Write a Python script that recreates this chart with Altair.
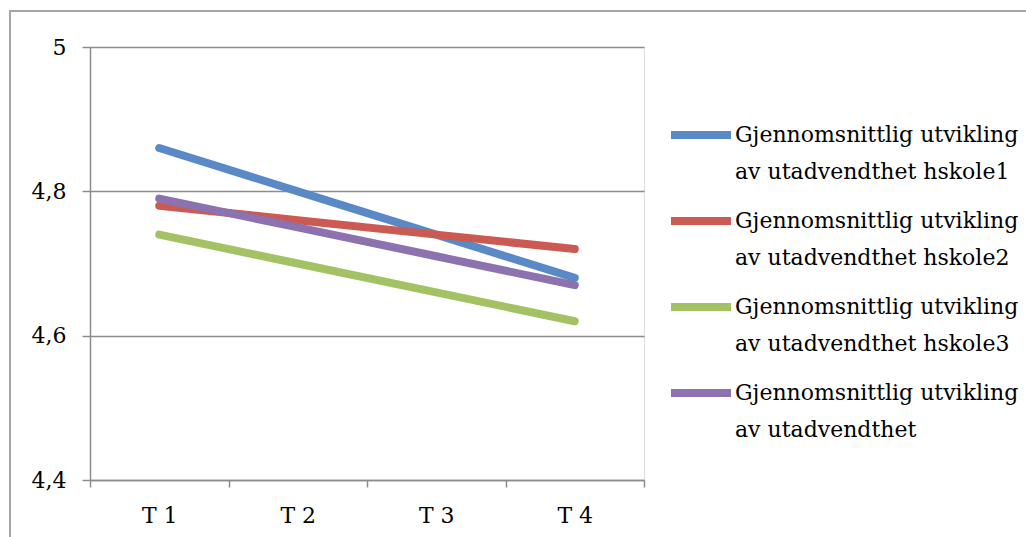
import altair as alt
import pandas as pd

categories = ["T 1", "T 2", "T 3", "T 4"]
series_names = [
    "Gjennomsnittlig utvikling av utadvendthet hskole1",
    "Gjennomsnittlig utvikling av utadvendthet hskole2",
    "Gjennomsnittlig utvikling av utadvendthet hskole3",
    "Gjennomsnittlig utvikling av utadvendthet",
]
hskole1 = [4.86, 4.80, 4.74, 4.68]
hskole2 = [4.78, 4.76, 4.74, 4.72]
hskole3 = [4.74, 4.70, 4.66, 4.62]
overall = [4.79, 4.75, 4.71, 4.67]
colors = ["#5A8AC6", "#CB5B52", "#A3C263", "#8C73B0"]
y_ticks = [4.4, 4.6, 4.8, 5.0]

rows = []
for name, vals in zip(series_names, [hskole1, hskole2, hskole3, overall]):
    for c, v in zip(categories, vals):
        rows.append({"Tid": c, "Verdi": v, "Serie": name})
df = pd.DataFrame(rows)

FONT = "DejaVu Serif"
GRAY = "#8C8C8C"

lines = alt.Chart(df).mark_line(strokeWidth=8, strokeCap="round", strokeJoin="round").encode(
    x=alt.X("Tid:N", sort=categories, bandPosition=0.5,
            scale=alt.Scale(type="band", paddingInner=0, paddingOuter=0),
            axis=alt.Axis(title=None, labelAngle=0, tickBand="extent", grid=False,
                          domainColor=GRAY, domainWidth=1.5, tickColor=GRAY, tickWidth=1.5,
                          tickSize=7, labelPadding=18, labelFont=FONT, labelFontSize=22,
                          labelColor="#000000")),
    y=alt.Y("Verdi:Q", scale=alt.Scale(domain=[4.4, 5.0], nice=False, zero=False),
            axis=alt.Axis(title=None, values=y_ticks, labelExpr="replace(format(datum.value, '.1~f'), '.', ',')",
                          grid=True, gridColor=GRAY, gridWidth=1.5,
                          domainColor=GRAY, domainWidth=1.5, tickColor=GRAY, tickWidth=1.5,
                          tickSize=8, labelPadding=16, labelFont=FONT, labelFontSize=22,
                          labelColor="#000000")),
    color=alt.Color("Serie:N", sort=series_names,
                    scale=alt.Scale(domain=series_names, range=colors),
                    legend=alt.Legend(title=None, orient="none", legendX=577, legendY=54,
                                      symbolType="stroke", symbolSize=3600, symbolStrokeWidth=8,
                                      labelFont=FONT, labelFontSize=22, labelColor="#000000",
                                      labelOffset=0, labelLimit=400, rowPadding=4,
                                      labelExpr="[slice(datum.label, 0, 25), slice(datum.label, 26)]")),
    order=alt.Order("Serie:N", sort="ascending"),
)

border = alt.Chart(pd.DataFrame({"a": [0]})).mark_rect(
    fill=None, stroke="#A6A6A6", strokeWidth=2
).encode(x=alt.value(-80), x2=alt.value(1000), y=alt.value(-36), y2=alt.value(520))

chart = alt.layer(border, lines).properties(
    width=554, height=433,
    autosize=alt.AutoSizeParams(type="none"),
    padding={"left": 90, "top": 47, "right": 382, "bottom": 57},
).configure_view(stroke=None).configure(
    background="#FFFFFF",
    style={"guide-label": {"lineHeight": 37}},
)

chart.save("out.html", embed_options={"renderer": "svg", "actions": False})
